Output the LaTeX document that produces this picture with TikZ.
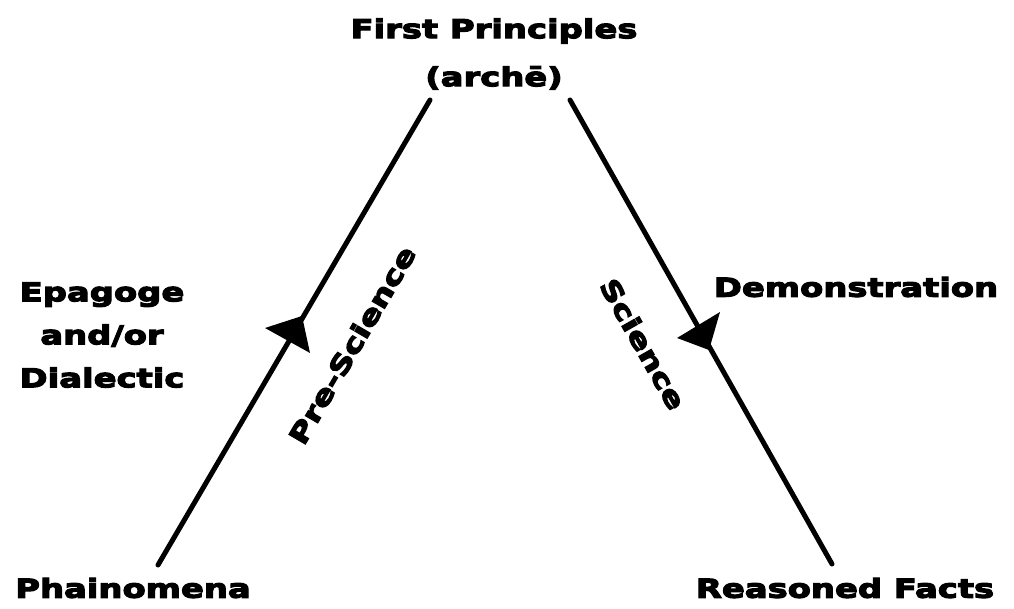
\documentclass[tikz,border=0pt]{standalone}
\usepackage{fontspec}
\setmainfont{DejaVu Sans}[UprightFont=* Bold, BoldFont=* Bold, FakeBold=4.5, FakeStretch=1.3]
\begin{document}
\begin{tikzpicture}[x=1pt,y=-1pt,
  lbl/.style={font=\fontsize{26}{46}\selectfont, align=center, inner sep=0pt},
  edge/.style={line width=5pt, line cap=round},
  tri/.style={fill=black, draw=none}]
\useasboundingbox (0,0) rectangle (1014,609);
\node[lbl, font=\fontsize{26}{48}\selectfont] (fp) at (494,54) {First Principles\\(arch\={e})};
\node[lbl] (ph) at (133,588) {Phainomena};
\node[lbl] (rf) at (845,588) {Reasoned Facts};
\node[lbl, font=\fontsize{26}{43}\selectfont] (ep) at (102,335) {Epagoge\\and/or\\Dialectic};
\node[lbl] (dm) at (856,287) {Demonstration};
\coordinate (l0) at (158,565);
\coordinate (l1) at (430,100);
\coordinate (r0) at (570,100);
\coordinate (r1) at (832,564);
\draw[edge] (l0) -- (l1);
\draw[edge] (r0) -- (r1);
% arrowheads
\fill[tri] (265,328) -- (302,316) -- (310,353) -- cycle;
\fill[tri] (677,338) -- (720,312) -- (709,350) -- cycle;
\node[lbl, rotate=59.7] (ps) at (352,345) {Pre-Science};
\node[lbl, rotate=-60.5] (sc) at (643,344) {Science};
\end{tikzpicture}
\end{document}
